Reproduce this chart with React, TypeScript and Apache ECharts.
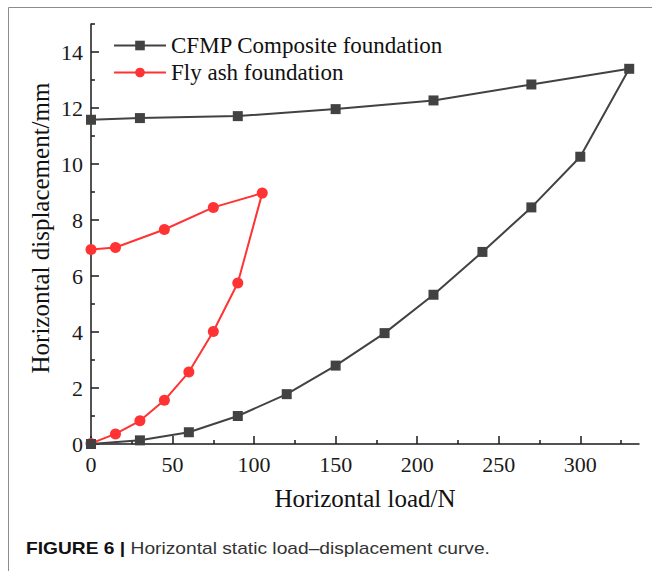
import { useEffect, useRef } from "react";
import * as echarts from "echarts";

// Load (N) and horizontal displacement (mm), loading then unloading branch
const loadCFMP = [0, 30, 60, 90, 120, 150, 180, 210, 240, 270, 300, 330, 270, 210, 150, 90, 30, 0];
const dispCFMP = [0, 0.13, 0.42, 1.0, 1.78, 2.8, 3.96, 5.33, 6.86, 8.45, 10.26, 13.4, 12.84, 12.27, 11.96, 11.71, 11.64, 11.58];
const loadFlyAsh = [0, 15, 30, 45, 60, 75, 90, 105, 75, 45, 15, 0];
const dispFlyAsh = [0.02, 0.36, 0.83, 1.56, 2.57, 4.02, 5.75, 8.96, 8.45, 7.66, 7.02, 6.95];

const xMajorTicks = [0, 50, 100, 150, 200, 250, 300];
const xMinorTicks = [25, 75, 125, 175, 225, 275, 325];
const yMajorTicks = [0, 2, 4, 6, 8, 10, 12, 14];
const yMinorTicks = [1, 3, 5, 7, 9, 11, 13, 15];

const SERIF = "Liberation Serif";
const SANS = "Liberation Sans";
const AXIS_COLOR = "#1a1a1a";
const DARK = "#424242";
const RED = "#ff3333";

const pairs = (xs: number[], ys: number[]) => xs.map((x, i) => [x, ys[i]]);

export default function App() {
  const ref = useRef<HTMLDivElement>(null);

  useEffect(() => {
    if (!ref.current) return;
    const chart = echarts.init(ref.current, undefined, { renderer: "svg" });

    const tickStyle = { color: AXIS_COLOR, width: 1.5 };
    const serifNum = { fontSize: 22, fontFamily: SERIF, color: AXIS_COLOR };
    const tickLabel = {
      margin: 9,
      ...serifNum,
      showMaxLabel: false,
      formatter: "{n|{value}}",
      rich: { n: serifNum },
    };

    chart.setOption({
      animation: false,
      backgroundColor: "#ffffff",
      textStyle: { fontFamily: SERIF },
      grid: { left: 91, right: 13, top: 24, bottom: 127, containLabel: false },
      legend: {
        orient: "vertical",
        left: 108,
        top: 29,
        itemWidth: 52,
        itemHeight: 12,
        itemGap: 4,
        textStyle: { fontSize: 23, fontFamily: SERIF, color: "#111" },
        data: ["CFMP Composite foundation", "Fly ash foundation"],
      },
      xAxis: [
        {
          type: "value",
          position: "bottom",
          min: 0,
          max: 336,
          interval: 50,
          axisLine: { show: true, lineStyle: tickStyle },
          axisTick: { show: true, inside: true, length: 8, customValues: xMajorTicks, lineStyle: tickStyle },
          axisLabel: tickLabel,
          splitLine: { show: false },
          name: "Horizontal load/N",
          nameLocation: "middle",
          nameGap: 42,
          nameTextStyle: { fontSize: 25, fontFamily: SERIF, color: "#111" },
        },
        {
          type: "value",
          position: "bottom",
          min: 0,
          max: 336,
          axisLine: { show: false },
          axisTick: { show: true, inside: true, length: 4, customValues: xMinorTicks, lineStyle: tickStyle },
          axisLabel: { show: false },
          splitLine: { show: false },
        },
      ],
      yAxis: [
        {
          type: "value",
          position: "left",
          min: 0,
          max: 15,
          interval: 2,
          axisLine: { show: true, lineStyle: tickStyle },
          axisTick: { show: true, inside: true, length: 8, customValues: yMajorTicks, lineStyle: tickStyle },
          axisLabel: { ...tickLabel, margin: 8 },
          splitLine: { show: false },
        },
        {
          type: "value",
          position: "left",
          min: 0,
          max: 15,
          axisLine: { show: false },
          axisTick: { show: true, inside: true, length: 4, customValues: yMinorTicks, lineStyle: tickStyle },
          axisLabel: { show: false },
          splitLine: { show: false },
        },
      ],
      series: [
        {
          name: "Fly ash foundation",
          type: "line",
          xAxisIndex: 0,
          yAxisIndex: 0,
          data: pairs(loadFlyAsh, dispFlyAsh),
          symbol: "circle",
          symbolSize: 11,
          lineStyle: { color: RED, width: 2 },
          itemStyle: { color: RED },
          z: 2,
        },
        {
          name: "CFMP Composite foundation",
          type: "line",
          xAxisIndex: 0,
          yAxisIndex: 0,
          data: pairs(loadCFMP, dispCFMP),
          symbol: "rect",
          symbolSize: 10,
          lineStyle: { color: DARK, width: 2 },
          itemStyle: { color: DARK },
          z: 3,
        },
      ],
      graphic: [
        { type: "line", shape: { x1: 8.5, y1: 7.5, x2: 652, y2: 7.5 }, style: { stroke: "#8c8c8c", lineWidth: 1 } },
        { type: "line", shape: { x1: 8.5, y1: 7.5, x2: 8.5, y2: 571 }, style: { stroke: "#8c8c8c", lineWidth: 1 } },
        {
          type: "text",
          x: 40,
          y: 228,
          rotation: Math.PI / 2,
          style: {
            text: "Horizontal displacement/mm",
            fontSize: 25,
            fontFamily: SERIF,
            fill: "#111",
            align: "center",
            verticalAlign: "middle",
          },
        },
        {
          type: "text",
          x: 26,
          y: 541,
          scaleX: 1.2,
          style: {
            text: "{b|FIGURE 6 |} {n|Horizontal static load\u2013displacement curve.}",
            fontSize: 16,
            fontFamily: SANS,
            rich: {
              b: { fontSize: 16, fontFamily: SANS, fontWeight: "bold", fill: "#111" },
              n: { fontSize: 16, fontFamily: SANS, fill: "#333" },
            },
          },
        },
      ],
    });

    return () => chart.dispose();
  }, []);

  return (
    <div
      ref={ref}
      style={{ position: "fixed", left: 0, top: 0, width: 652, height: 571, background: "#fff" }}
    />
  );
}
